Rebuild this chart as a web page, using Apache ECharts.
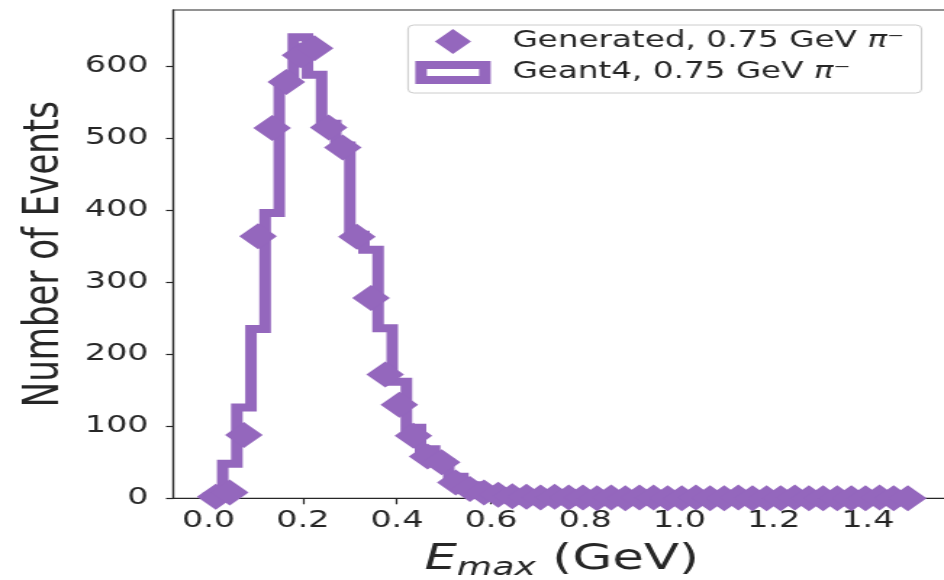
<!DOCTYPE html>
<html>
<head>
<meta charset="utf-8">
<script src="https://cdn.jsdelivr.net/npm/echarts@6/dist/echarts.min.js"></script>
<style>
  html, body { margin: 0; padding: 0; background: #fff; overflow: hidden; width: 944px; height: 580px; }
  /* the figure is laid out narrow and widened horizontally */
  #chart { position: absolute; left: 0; top: 0; width: 660px; height: 580px; transform: scaleX(1.45); transform-origin: 0 0; }
</style>
</head>
<body>
<div id="chart"></div>
<script>
// Histogram binning of E_max (GeV): 50 bins of 0.03 GeV from 0 to 1.5
const binEdges = [0.00, 0.03, 0.06, 0.09, 0.12, 0.15, 0.18, 0.21, 0.24, 0.27,
                  0.30, 0.33, 0.36, 0.39, 0.42, 0.45, 0.48, 0.51, 0.54, 0.57,
                  0.60, 0.63, 0.66, 0.69, 0.72, 0.75, 0.78, 0.81, 0.84, 0.87,
                  0.90, 0.93, 0.96, 0.99, 1.02, 1.05, 1.08, 1.11, 1.14, 1.17,
                  1.20, 1.23, 1.26, 1.29, 1.32, 1.35, 1.38, 1.41, 1.44, 1.47, 1.50];

// Generated events per bin (diamond markers at bin centres)
const generatedCounts = [2, 8, 88, 364, 514, 578, 615, 625, 515, 487,
                         363, 278, 172, 130, 87, 58, 50, 22, 13, 8,
                         5, 3, 2, 1, 2, 1, 1, 0, 1, 0,
                         1, 1, 0, 0, 1, 0, 0, 1, 0, 0,
                         0, 1, 0, 0, 0, 0, 0, 1, 0, 0];

// Geant4 events per bin (step outline)
const geant4Counts = [3, 48, 126, 235, 396, 578, 640, 588, 520, 490,
                      366, 345, 236, 162, 98, 68, 50, 30, 18, 10,
                      6, 3, 2, 1, 1, 2, 1, 0, 1, 1,
                      0, 1, 0, 1, 0, 0, 1, 0, 0, 1,
                      0, 0, 0, 1, 0, 0, 0, 0, 1, 0];

const xTicks = [0.0, 0.2, 0.4, 0.6, 0.8, 1.0, 1.2, 1.4];
const yTicks = [0, 100, 200, 300, 400, 500, 600];

const seriesNames = ['Generated, 0.75 GeV π⁻', 'Geant4, 0.75 GeV π⁻'];

const purple = '#9467bd';
const ink = '#262626';
const font = 'DejaVu Sans';

// marker positions: bin centres
const generatedPoints = generatedCounts.map((c, i) => [(binEdges[i] + binEdges[i + 1]) / 2, c]);

// step outline: rise from zero at the first edge, fall back to zero at the last
const stepPoints = [[binEdges[0], 0]];
geant4Counts.forEach((c, i) => stepPoints.push([binEdges[i], c]));
stepPoints.push([binEdges[binEdges.length - 1], geant4Counts[geant4Counts.length - 1]]);
stepPoints.push([binEdges[binEdges.length - 1], 0]);

const chart = echarts.init(document.getElementById('chart'), null, { renderer: 'canvas' });

const axisLineStyle = { color: ink, width: 1.2 };

chart.setOption({
  animation: false,
  backgroundColor: '#ffffff',
  grid: {
    left: 119.5, right: 4.7, top: 10, bottom: 81.7,
    outerBoundsMode: 'none',
    containLabel: false,
    show: true, borderColor: ink, borderWidth: 1.2, backgroundColor: 'transparent'
  },
  legend: {
    orient: 'vertical',
    left: 281.4, top: 25,
    itemWidth: 52, itemHeight: 25, itemGap: 7,
    padding: [4, 12, 9, 5],
    backgroundColor: 'rgba(255,255,255,0.85)',
    borderColor: '#cccccc', borderWidth: 1, borderRadius: 4,
    symbolKeepAspect: true,
    itemStyle: { color: purple, borderWidth: 0 },
    textStyle: {
      fontFamily: font, fontSize: 22.5, color: ink, padding: [0, 0, 0, 10],
      rich: {
        t: { fontFamily: font, fontSize: 22.5, color: ink },
        it: { fontFamily: font, fontSize: 22.5, color: ink, fontStyle: 'italic' }
      }
    },
    formatter: name => '{t|' + name.replace(' π⁻', ' ') + '}{it|π⁻}',
    data: [
      { name: seriesNames[0], icon: 'path://M12.5 0L25 12.5L12.5 25L0 12.5Z' },
      { name: seriesNames[1], icon: 'path://M0 0H52V23H0Z M8 8V15H44V8Z' }
    ]
  },
  xAxis: {
    type: 'value', min: -0.075, max: 1.575,
    axisLine: { show: true, onZero: false, lineStyle: axisLineStyle },
    axisTick: { show: true, length: 6, customValues: xTicks, lineStyle: axisLineStyle },
    axisLabel: {
      customValues: xTicks, formatter: v => v.toFixed(1),
      margin: 11, fontSize: 23, color: ink, fontFamily: font
    },
    splitLine: { show: false },
    name: '{e|E}{m|max}{n| (GeV)}',
    nameLocation: 'middle', nameGap: 39,
    nameTextStyle: {
      rich: {
        e: { fontFamily: font, fontSize: 35.5, fontStyle: 'italic', color: ink, lineHeight: 44, verticalAlign: 'middle' },
        m: { fontFamily: font, fontSize: 25, fontStyle: 'italic', color: ink, lineHeight: 44, verticalAlign: 'bottom' },
        n: { fontFamily: font, fontSize: 35.5, color: ink, lineHeight: 44, verticalAlign: 'middle' }
      }
    }
  },
  yAxis: {
    type: 'value', min: 0, max: 678,
    axisLine: { show: true, onZero: false, lineStyle: axisLineStyle },
    axisTick: { show: true, length: 5, customValues: yTicks, lineStyle: axisLineStyle },
    axisLabel: {
      customValues: yTicks, margin: 17, fontSize: 23, color: ink, fontFamily: font
    },
    splitLine: { show: false },
    name: 'Number of Events',
    nameLocation: 'middle', nameGap: 70,
    nameTextStyle: { fontFamily: font, fontSize: 34, color: ink }
  },
  series: [
    {
      name: seriesNames[0],
      type: 'scatter',
      data: generatedPoints,
      symbol: 'diamond',
      symbolSize: 26,
      itemStyle: { color: purple, opacity: 1 },
      z: 3
    },
    {
      name: seriesNames[1],
      type: 'line',
      data: stepPoints,
      step: 'end',
      symbol: 'none',
      clip: true,
      lineStyle: { color: purple, width: 8, join: 'miter', cap: 'butt' },
      itemStyle: { color: purple },
      z: 2
    }
  ]
});
</script>
</body>
</html>
